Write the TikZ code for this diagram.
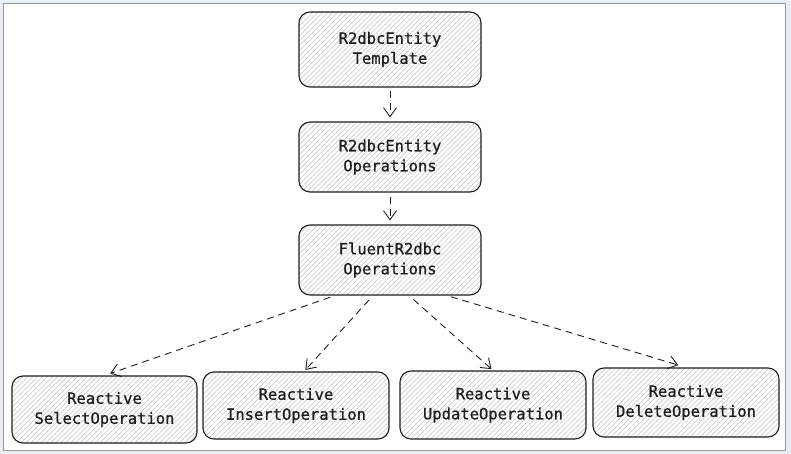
\documentclass[tikz,border=0pt]{standalone}
\usepackage{fontspec}
\newfontfamily\boxfont[FakeBold=0.7]{DejaVu Sans Mono}
\usepackage{tikz}
\usetikzlibrary{arrows.meta,patterns.meta}
\definecolor{framebg}{HTML}{E9EDF6}
\definecolor{framegray}{HTML}{9A9A9A}
\definecolor{ink}{HTML}{1E1E1E}
\tikzset{
  box/.style={draw=ink, line width=1.1pt, rounded corners=11pt,
    minimum width=182pt, minimum height=70pt, align=center, text=ink,
    font=\boxfont\fontsize{15.5}{20}\selectfont,
    pattern={Lines[angle=45,distance=3.5pt,line width=0.5pt]}, pattern color=black!24},
  arrow/.style={-{Straight Barb[length=9pt,width=13pt]}, draw=ink, line width=0.9pt,
    dash pattern=on 7pt off 5pt},
}
\begin{document}
\begin{tikzpicture}[x=1pt,y=-1pt]
  % frame
  \fill[framebg] (0,0) rectangle (791,454);
  \draw[framegray, fill=white, line width=0.8pt] (3.5,3.5) rectangle (785.5,450.5);

  % column of interfaces
  \node[box, minimum height=75pt] (tmpl) at (390,49.5) {R2dbcEntity\\Template};
  \node[box] (ops) at (390,157) {R2dbcEntity\\Operations};
  \node[box] (fluent) at (390,260) {FluentR2dbc\\Operations};

  % reactive operations
  \node[box, minimum width=185pt, minimum height=67pt] (sel) at (104.5,409.5) {Reactive\\SelectOperation};
  \node[box, minimum width=186pt, minimum height=67pt] (ins) at (296,405.5) {Reactive\\InsertOperation};
  \node[box, minimum width=186pt, minimum height=68pt] (upd) at (493,405) {Reactive\\UpdateOperation};
  \node[box, minimum width=186pt, minimum height=69pt] (del) at (686,402.5) {Reactive\\DeleteOperation};

  \draw[arrow, shorten <=4pt, shorten >=4pt] (tmpl) -- (ops);
  \draw[arrow, shorten <=4pt, shorten >=4pt] (ops) -- (fluent);
  \draw[arrow, shorten <=5pt, shorten >=6pt] ([xshift=-55pt]fluent.south) -- (sel.north);
  \draw[arrow, shorten <=6pt, shorten >=2pt] ([xshift=-17pt]fluent.south) -- ([xshift=8pt]ins.north);
  \draw[arrow, shorten <=6pt, shorten >=2pt] ([xshift=19pt]fluent.south) -- (upd.north);
  \draw[arrow, shorten <=4pt, shorten >=8pt] ([xshift=57pt]fluent.south) -- (del.north);
\end{tikzpicture}
\end{document}
